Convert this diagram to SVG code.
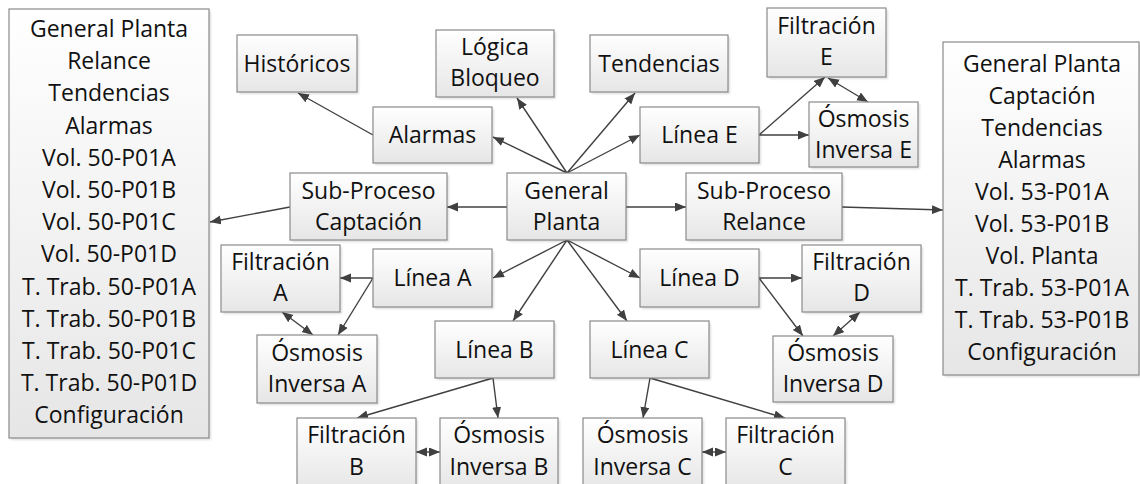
<svg xmlns="http://www.w3.org/2000/svg" width="1140" height="484" viewBox="0 0 1140 484">
<style>
.box rect.b{fill:url(#g);stroke:#8a8a8a;stroke-width:1.2}
.box rect.s{fill:#000;opacity:0.13;filter:url(#blur)}
text{font-family:"Open Sans","Noto Sans","DejaVu Sans",sans-serif;font-size:23px;fill:#111111;text-anchor:middle}
#connectors line{stroke:#404040;stroke-width:1.4;fill:none;marker-end:url(#ah)}
#connectors line.d{marker-start:url(#ah)}
</style>
<defs>
<linearGradient id="g" x1="0" y1="0" x2="0" y2="1">
<stop offset="0" stop-color="#ffffff"/>
<stop offset="1" stop-color="#e6e6e6"/>
</linearGradient>
<filter id="blur" x="-10%" y="-10%" width="120%" height="120%"><feGaussianBlur stdDeviation="1"/></filter>
<marker id="ah" markerUnits="userSpaceOnUse" markerWidth="12" markerHeight="10" refX="11" refY="4.5" orient="auto-start-reverse" viewBox="0 0 12 10">
<path d="M0,0 L11,4.5 L0,9 z" fill="#404040"/>
</marker>
</defs>
<rect width="1140" height="484" fill="#ffffff"/>

<g id="connectors">
<line x1="567" y1="173" x2="493" y2="137"/>
<line x1="567" y1="173" x2="517" y2="98"/>
<line x1="567" y1="173" x2="635" y2="93"/>
<line x1="567" y1="173" x2="640" y2="135"/>
<line x1="507" y1="207" x2="447" y2="207"/>
<line x1="626" y1="207" x2="686" y2="207"/>
<line x1="567" y1="240" x2="493" y2="278"/>
<line x1="567" y1="240" x2="513" y2="321"/>
<line x1="567" y1="240" x2="627" y2="321"/>
<line x1="567" y1="240" x2="640" y2="278"/>
<line x1="373" y1="135" x2="298" y2="93"/>
<line x1="290" y1="207" x2="210" y2="222"/>
<line x1="842" y1="207" x2="943" y2="210"/>
<line x1="759" y1="135" x2="825" y2="77"/>
<line x1="759" y1="135" x2="809" y2="135"/>
<line class="d" x1="828" y1="78" x2="868" y2="102"/>
<line x1="373" y1="278" x2="340" y2="278"/>
<line x1="373" y1="278" x2="338" y2="335"/>
<line class="d" x1="282" y1="312" x2="313" y2="335"/>
<line x1="759" y1="278" x2="802" y2="278"/>
<line x1="759" y1="278" x2="803" y2="336"/>
<line class="d" x1="860" y1="312" x2="833" y2="336"/>
<line x1="493" y1="378" x2="357" y2="418"/>
<line x1="493" y1="378" x2="498" y2="418"/>
<line x1="650" y1="378" x2="643" y2="418"/>
<line x1="650" y1="378" x2="785" y2="418"/>
<line class="d" x1="416" y1="452" x2="440" y2="452"/>
<line class="d" x1="702" y1="452" x2="726" y2="452"/>
</g>

<g id="n-left" class="box">
<rect class="s" x="11" y="11" width="200" height="429"/>
<rect class="b" x="9" y="9" width="200" height="429"/>
<text x="109" y="37">General Planta</text>
<text x="109" y="69.2">Relance</text>
<text x="109" y="101.4">Tendencias</text>
<text x="109" y="133.6">Alarmas</text>
<text x="109" y="165.8">Vol. 50-P01A</text>
<text x="109" y="198">Vol. 50-P01B</text>
<text x="109" y="230.2">Vol. 50-P01C</text>
<text x="109" y="262.4">Vol. 50-P01D</text>
<text x="109" y="294.6">T. Trab. 50-P01A</text>
<text x="109" y="326.8">T. Trab. 50-P01B</text>
<text x="109" y="359">T. Trab. 50-P01C</text>
<text x="109" y="391.2">T. Trab. 50-P01D</text>
<text x="109" y="423.4">Configuración</text>
</g>

<g id="n-right" class="box">
<rect class="s" x="945" y="44" width="196" height="333"/>
<rect class="b" x="943" y="42" width="196" height="333"/>
<text x="1042" y="72">General Planta</text>
<text x="1042" y="104">Captación</text>
<text x="1042" y="136">Tendencias</text>
<text x="1042" y="168">Alarmas</text>
<text x="1042" y="200">Vol. 53-P01A</text>
<text x="1042" y="232">Vol. 53-P01B</text>
<text x="1042" y="264">Vol. Planta</text>
<text x="1042" y="296">T. Trab. 53-P01A</text>
<text x="1042" y="328">T. Trab. 53-P01B</text>
<text x="1042" y="360">Configuración</text>
</g>

<g id="n-historicos" class="box">
<rect class="s" x="239" y="37" width="120" height="57"/>
<rect class="b" x="237" y="35" width="120" height="57"/>
<text x="297" y="71.5">Históricos</text>
</g>

<g id="n-alarmas" class="box">
<rect class="s" x="375" y="109" width="119" height="56"/>
<rect class="b" x="373" y="107" width="119" height="56"/>
<text x="432.5" y="143">Alarmas</text>
</g>

<g id="n-logica" class="box">
<rect class="s" x="438" y="32" width="118" height="67"/>
<rect class="b" x="436" y="30" width="118" height="67"/>
<text x="495" y="55">Lógica</text>
<text x="495" y="86">Bloqueo</text>
</g>

<g id="n-tendencias" class="box">
<rect class="s" x="592" y="37" width="138" height="57"/>
<rect class="b" x="590" y="35" width="138" height="57"/>
<text x="659" y="71.5">Tendencias</text>
</g>

<g id="n-lineaE" class="box">
<rect class="s" x="642" y="109" width="119" height="56"/>
<rect class="b" x="640" y="107" width="119" height="56"/>
<text x="699.5" y="143">Línea E</text>
</g>

<g id="n-filtE" class="box">
<rect class="s" x="769" y="10" width="119" height="69"/>
<rect class="b" x="767" y="8" width="119" height="69"/>
<text x="826.5" y="34">Filtración</text>
<text x="826.5" y="65">E</text>
</g>

<g id="n-osmE" class="box">
<rect class="s" x="811" y="104" width="109" height="65"/>
<rect class="b" x="809" y="102" width="109" height="65"/>
<text x="863.5" y="127">Ósmosis</text>
<text x="863.5" y="158">Inversa E</text>
</g>

<g id="n-general" class="box">
<rect class="s" x="509" y="175" width="119" height="67"/>
<rect class="b" x="507" y="173" width="119" height="67"/>
<text x="566.5" y="198.5">General</text>
<text x="566.5" y="229.5">Planta</text>
</g>

<g id="n-spcaptacion" class="box">
<rect class="s" x="292" y="175" width="157" height="67"/>
<rect class="b" x="290" y="173" width="157" height="67"/>
<text x="368.5" y="198.5">Sub-Proceso</text>
<text x="368.5" y="229.5">Captación</text>
</g>

<g id="n-sprelance" class="box">
<rect class="s" x="688" y="175" width="156" height="67"/>
<rect class="b" x="686" y="173" width="156" height="67"/>
<text x="764" y="198.5">Sub-Proceso</text>
<text x="764" y="229.5">Relance</text>
</g>

<g id="n-filtA" class="box">
<rect class="s" x="223" y="247" width="119" height="67"/>
<rect class="b" x="221" y="245" width="119" height="67"/>
<text x="280.5" y="270">Filtración</text>
<text x="280.5" y="301">A</text>
</g>

<g id="n-lineaA" class="box">
<rect class="s" x="375" y="251" width="119" height="58"/>
<rect class="b" x="373" y="249" width="119" height="58"/>
<text x="432.5" y="286">Línea A</text>
</g>

<g id="n-osmA" class="box">
<rect class="s" x="259" y="337" width="120" height="68"/>
<rect class="b" x="257" y="335" width="120" height="68"/>
<text x="317" y="360.5">Ósmosis</text>
<text x="317" y="391.5">Inversa A</text>
</g>

<g id="n-lineaD" class="box">
<rect class="s" x="642" y="251" width="119" height="58"/>
<rect class="b" x="640" y="249" width="119" height="58"/>
<text x="699.5" y="286">Línea D</text>
</g>

<g id="n-filtD" class="box">
<rect class="s" x="804" y="247" width="119" height="67"/>
<rect class="b" x="802" y="245" width="119" height="67"/>
<text x="861.5" y="270">Filtración</text>
<text x="861.5" y="301">D</text>
</g>

<g id="n-osmD" class="box">
<rect class="s" x="775" y="338" width="120" height="66"/>
<rect class="b" x="773" y="336" width="120" height="66"/>
<text x="833" y="360.5">Ósmosis</text>
<text x="833" y="391.5">Inversa D</text>
</g>

<g id="n-lineaB" class="box">
<rect class="s" x="437" y="323" width="119" height="57"/>
<rect class="b" x="435" y="321" width="119" height="57"/>
<text x="494.5" y="357.5">Línea B</text>
</g>

<g id="n-lineaC" class="box">
<rect class="s" x="592" y="323" width="119" height="57"/>
<rect class="b" x="590" y="321" width="119" height="57"/>
<text x="649.5" y="357.5">Línea C</text>
</g>

<g id="n-filtB" class="box">
<rect class="s" x="299" y="420" width="119" height="72"/>
<rect class="b" x="297" y="418" width="119" height="72"/>
<text x="356.5" y="443">Filtración</text>
<text x="356.5" y="475">B</text>
</g>

<g id="n-osmB" class="box">
<rect class="s" x="442" y="420" width="118" height="72"/>
<rect class="b" x="440" y="418" width="118" height="72"/>
<text x="499" y="443">Ósmosis</text>
<text x="499" y="475">Inversa B</text>
</g>

<g id="n-osmC" class="box">
<rect class="s" x="585" y="420" width="119" height="72"/>
<rect class="b" x="583" y="418" width="119" height="72"/>
<text x="642.5" y="443">Ósmosis</text>
<text x="642.5" y="475">Inversa C</text>
</g>

<g id="n-filtC" class="box">
<rect class="s" x="728" y="420" width="119" height="72"/>
<rect class="b" x="726" y="418" width="119" height="72"/>
<text x="785.5" y="443">Filtración</text>
<text x="785.5" y="475">C</text>
</g>
</svg>
